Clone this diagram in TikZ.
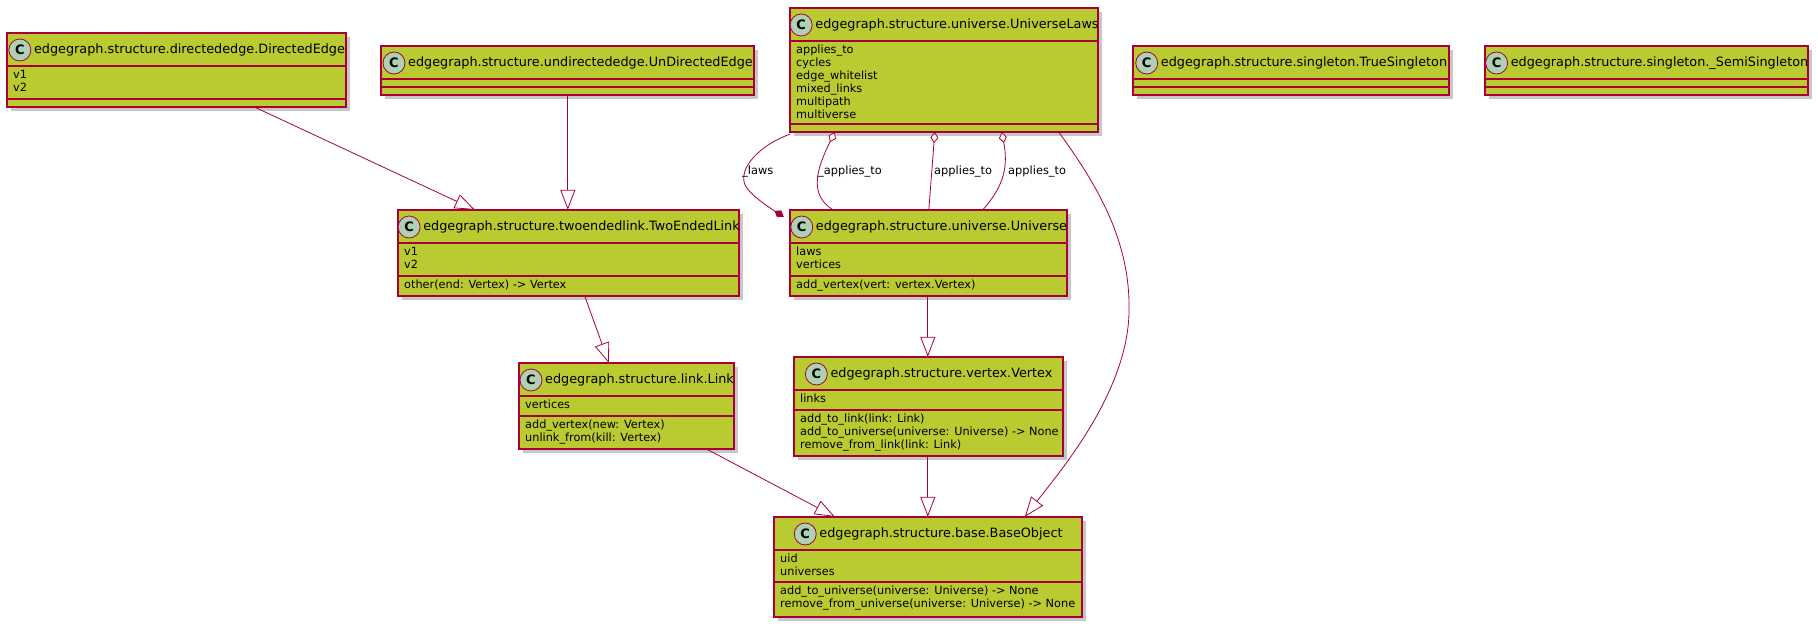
\documentclass[tikz,border=0pt]{standalone}
\usepackage{fontspec}
\setmainfont{DejaVu Sans}
\usetikzlibrary{arrows.meta,calc}
\definecolor{cfill}{HTML}{B9CB30}
\definecolor{cline}{HTML}{A80036}
\definecolor{cicon}{HTML}{ADD1B2}
\tikzset{
  box/.style={draw=cline,fill=cfill,line width=1.2pt},
  shad/.style={fill=black!22},
  sep/.style={draw=cline,line width=1.2pt},
  ttl/.style={anchor=center,inner sep=0,font=\fontsize{12.8}{14}\selectfont},
  mem/.style={anchor=north west,inner sep=0,align=left,font=\fontsize{11.3}{13}\selectfont},
  icon/.style={circle,draw=cline,fill=cicon,minimum size=22pt,inner sep=0,line width=0.8pt,font=\fontsize{13}{13}\selectfont\bfseries},
  conn/.style={draw=cline,line width=0.8pt},
  ext/.style={conn,-{Triangle[open,length=20pt,width=15pt,fill=white]}},
  agg/.style={conn,{Diamond[open,length=11pt,width=8pt,fill=white]}-},
  comp/.style={conn,-{Diamond[length=11pt,width=8pt]}},
  lbl/.style={font=\fontsize{11.4}{13}\selectfont,inner sep=0pt}
}
% name, x1, y1, x2, y2, y of attr/method separator, title, attrs, methods
\newcommand\ucls[9]{%
  \fill[shad] (#2+4,#3+4) rectangle (#4+4,#5+4);
  \path[box] (#2,#3) rectangle (#4,#5);
  \node[inner sep=0,minimum width={(#4-#2)*1pt},minimum height={(#5-#3)*1pt}] (#1) at ({(#2+#4)/2},{(#3+#5)/2}) {};
  \draw[sep] (#2,#3+33) -- (#4,#3+33);
  \draw[sep] (#2,#6) -- (#4,#6);
  \node[ttl] (#1-t) at ({(#2+#4)/2+13},#3+17) {#7};
  \node[icon] (#1-i) at ([xshift=-14pt]#1-t.west) {C};
  \node[mem] (#1-a) at (#2+6,#3+37) {#8};
  \node[mem] (#1-m) at (#2+6,#6+4) {#9};
}
\begin{document}
\begin{tikzpicture}[x=1pt,y=-1pt]
\useasboundingbox (0,0) rectangle (1818,626);
\ucls{de}{7}{33}{346}{107}{99}{edgegraph.structure.directededge.DirectedEdge}{v1\\v2}{}
\ucls{ude}{381}{46}{754}{95}{87}{edgegraph.structure.undirectededge.UnDirectedEdge}{}{}
\ucls{ul}{790}{8}{1098}{132}{124}{edgegraph.structure.universe.UniverseLaws}{applies\_to\\cycles\\edge\_whitelist\\mixed\_links\\multipath\\multiverse}{}
\ucls{ts}{1133}{46}{1449}{95}{87}{edgegraph.structure.singleton.TrueSingleton}{}{}
\ucls{ss}{1485}{46}{1808}{95}{87}{edgegraph.structure.singleton.\_SemiSingleton}{}{}
\ucls{tel}{398}{210}{739}{296}{276}{edgegraph.structure.twoendedlink.TwoEndedLink}{v1\\v2}{other(end: Vertex) -> Vertex}
\ucls{uv}{790}{210}{1067}{296}{276}{edgegraph.structure.universe.Universe}{laws\\vertices}{add\_vertex(vert: vertex.Vertex)}
\ucls{lk}{519}{363}{734}{449}{416}{edgegraph.structure.link.Link}{vertices}{add\_vertex(new: Vertex)\\unlink\_from(kill: Vertex)}
\ucls{vx}{794}{357}{1063}{456}{410}{edgegraph.structure.vertex.Vertex}{links}{add\_to\_link(link: Link)\\add\_to\_universe(universe: Universe) -> None\\remove\_from\_link(link: Link)}
\ucls{bo}{774}{517}{1082}{617}{582}{edgegraph.structure.base.BaseObject}{uid\\universes}{add\_to\_universe(universe: Universe) -> None\\remove\_from\_universe(universe: Universe) -> None}

\draw[ext] ([xshift=248pt]de.south west) -- ([xshift=77pt]tel.north west);
\draw[ext] ([xshift=187pt]ude.south west) -- ([xshift=170pt]tel.north west);
\draw[ext] ([xshift=187pt]tel.south west) -- ([xshift=90pt]lk.north west);
\draw[ext] ([xshift=138pt]uv.south west) -- ([xshift=134pt]vx.north west);
\draw[ext] ([xshift=188pt]lk.south west) -- ([xshift=61pt]bo.north west);
\draw[ext] ([xshift=134pt]vx.south west) -- ([xshift=154pt]bo.north west);
\draw[ext] ([xshift=269pt]ul.south west) .. controls +(40,55) and +(2,-70) .. (1129,313) .. controls +(-2,80) and +(35,-45) .. ([xshift=251pt]bo.north west);
\draw[comp] ([yshift=-2pt]ul.south west) .. controls (760,145) and (738,168) .. (745,185) .. controls (750,195) and (770,208) .. ([xshift=-6pt,yshift=-7pt]uv.north west);
\draw[agg] ([xshift=45pt]ul.south west) .. controls (815,172) and (810,195) .. ([xshift=43pt]uv.north west);
\draw[agg] ([xshift=145pt]ul.south west) -- ([xshift=139pt]uv.north west);
\draw[agg] ([xshift=212pt]ul.south west) .. controls (1008,165) and (1005,185) .. ([xshift=193pt]uv.north west);
\node[lbl,anchor=west] (l1) at (742,172) {\_laws};
\node[lbl,anchor=west] (l2) at (818,172) {\_applies\_to};
\node[lbl,anchor=west] (l3) at (934,172) {applies\_to};
\node[lbl,anchor=west] (l4) at (1008,172) {applies\_to};
\end{tikzpicture}
\end{document}
